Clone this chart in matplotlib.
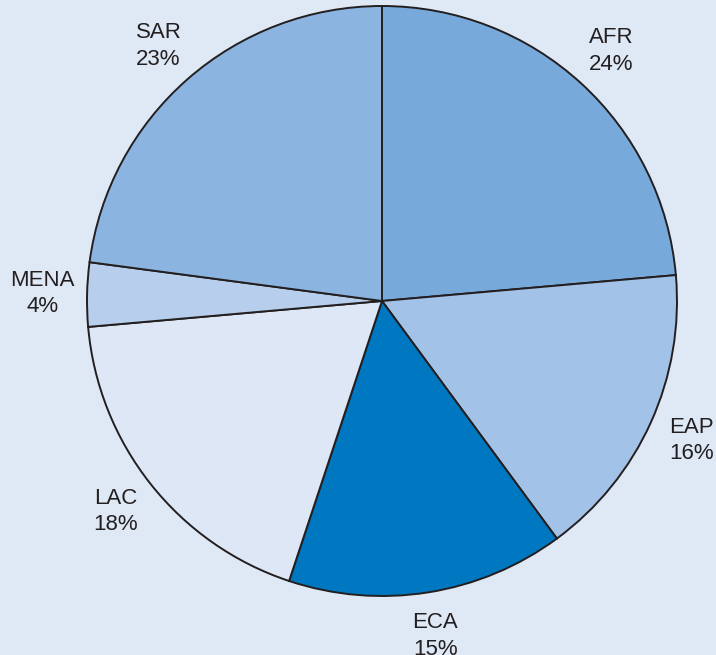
import matplotlib.pyplot as plt
import numpy as np

regions = ["AFR", "EAP", "ECA", "LAC", "MENA", "SAR"]
shares = [23.6, 16.3, 15.2, 18.5, 3.5, 22.9]
pct_labels = ["24%", "16%", "15%", "18%", "4%", "23%"]
colors = ["#77aadb", "#a3c2e7", "#0077c1", "#dde7f5", "#b7ceec", "#8bb5e0"]

bg = "#dfe9f6"
W, H = 716, 655
cx, cy, R = 382, 301, 295  # pie centre and radius in pixels

fig = plt.figure(figsize=(W / 100, H / 100), dpi=100, facecolor=bg)
ax = fig.add_axes([0, 0, 1, 1])
ax.set_facecolor(bg)

wedges, _ = ax.pie(shares, colors=colors, startangle=90, counterclock=False,
                   radius=1, center=(0, 0),
                   wedgeprops=dict(edgecolor="#231f20", linewidth=1.4))

# labels placed around the pie, centred
total = sum(shares)
ang = 90.0
for name, s, p in zip(regions, shares, pct_labels):
    mid = ang - s / total * 360 / 2
    ang -= s / total * 360
    d = 1.15
    x = d * np.cos(np.radians(mid))
    y = d * np.sin(np.radians(mid))
    ax.text(x, y, name + "\n" + p, ha="center", va="center",
            fontsize=16, color="#231f20", family="Liberation Sans",
            linespacing=1.35)

ax.set_xlim(-cx / R, (W - cx) / R)
ax.set_ylim(-(H - cy) / R, cy / R)
ax.set_aspect("auto")
ax.axis("off")

fig.savefig("out.png", dpi=100, facecolor=bg)
